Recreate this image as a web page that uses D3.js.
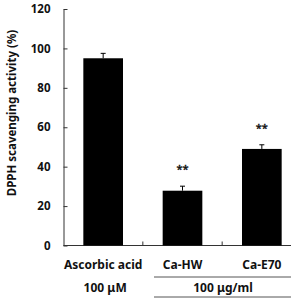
<!DOCTYPE html>
<html>
<head>
<meta charset="utf-8">
<script src="https://cdn.jsdelivr.net/npm/d3@7"></script>
<style>
  body { margin: 0; background: #fff; }
  text { font-family: "Noto Sans", sans-serif; font-weight: bold; fill: #111; }
</style>
</head>
<body>
<div id="chart"></div>
<script>
// DPPH scavenging activity
var groups = ["Ascorbic acid", "Ca-HW", "Ca-E70"];
var values = [95.0, 27.8, 49.0];
var errors = [2.5, 2.3, 2.1];
var marks = ["", "**", "**"];
var yTicks = [0, 20, 40, 60, 80, 100, 120];

var width = 304, height = 299;
var margin = {top: 9, left: 63.5, bottom: 245.5, right: 301.5};

var svg = d3.select("#chart").append("svg")
    .attr("width", width)
    .attr("height", height);

var x = d3.scaleBand()
    .domain(groups)
    .range([margin.left, margin.right])
    .paddingInner(0.5)
    .paddingOuter(0.25);

var y = d3.scaleLinear()
    .domain([0, 120])
    .range([margin.bottom, margin.top]);

// y axis, ticks point inward
var yAxis = svg.append("g")
    .attr("transform", "translate(" + margin.left + ",0)")
    .call(d3.axisLeft(y).tickValues(yTicks).tickSizeInner(-4).tickSizeOuter(0).tickPadding(13));
yAxis.select(".domain").attr("stroke", "#333");
yAxis.selectAll(".tick line").attr("stroke", "#333");
yAxis.selectAll("text").style("font-size", "11.5px").attr("fill", "#111");

// x axis line with small ticks between groups
svg.append("line")
    .attr("x1", margin.left).attr("x2", 291)
    .attr("y1", margin.bottom).attr("y2", margin.bottom)
    .attr("stroke", "#333");
var step = x.step();
svg.selectAll(".xtick")
    .data(groups.slice(1))
    .enter().append("line")
    .attr("x1", function(d) { return x(d) - step * 0.25; })
    .attr("x2", function(d) { return x(d) - step * 0.25; })
    .attr("y1", margin.bottom)
    .attr("y2", margin.bottom - 4)
    .attr("stroke", "#333");

// bars
svg.selectAll(".bar")
    .data(groups)
    .enter().append("rect")
    .attr("x", function(d) { return x(d); })
    .attr("width", x.bandwidth())
    .attr("y", function(d, i) { return y(values[i]); })
    .attr("height", function(d, i) { return y(0) - y(values[i]); })
    .attr("fill", "#000");

// error bars (upper only)
groups.forEach(function(g, i) {
  var cx = x(g) + x.bandwidth() / 2;
  svg.append("line")
      .attr("x1", cx).attr("x2", cx)
      .attr("y1", y(values[i])).attr("y2", y(values[i] + errors[i]))
      .attr("stroke", "#000");
  svg.append("line")
      .attr("x1", cx - 2.5).attr("x2", cx + 2.5)
      .attr("y1", y(values[i] + errors[i])).attr("y2", y(values[i] + errors[i]))
      .attr("stroke", "#000");
  if (marks[i]) {
    svg.append("text")
        .attr("x", cx)
        .attr("y", y(values[i] + errors[i]) - 13)
        .attr("text-anchor", "middle")
        .style("font-size", "11px")
        .style("font-weight", "normal")
        .style("stroke", "#111").style("stroke-width", 0.4)
        .text(marks[i]);
  }
  svg.append("text")
      .attr("x", cx)
      .attr("y", 268.5)
      .attr("text-anchor", "middle")
      .style("font-size", "12px")
      .text(g);
});

// dose labels
svg.append("text")
    .attr("x", x(groups[0]) + x.bandwidth() / 2 + 2)
    .attr("y", 292)
    .attr("text-anchor", "middle")
    .style("font-size", "12px")
    .text("100 μM");
svg.append("text")
    .attr("x", 223)
    .attr("y", 292)
    .attr("text-anchor", "middle")
    .style("font-size", "12px")
    .text("100 μg/ml");
[277, 297].forEach(function(yy) {
  svg.append("line")
      .attr("x1", 154).attr("x2", 291)
      .attr("y1", yy).attr("y2", yy)
      .attr("stroke", "#555");
});

// y title
svg.append("text")
    .attr("transform", "translate(16,113) rotate(-90)")
    .attr("text-anchor", "middle")
    .style("font-size", "11.5px")
    .text("DPPH scavenging activity (%)");
</script>
</body>
</html>
